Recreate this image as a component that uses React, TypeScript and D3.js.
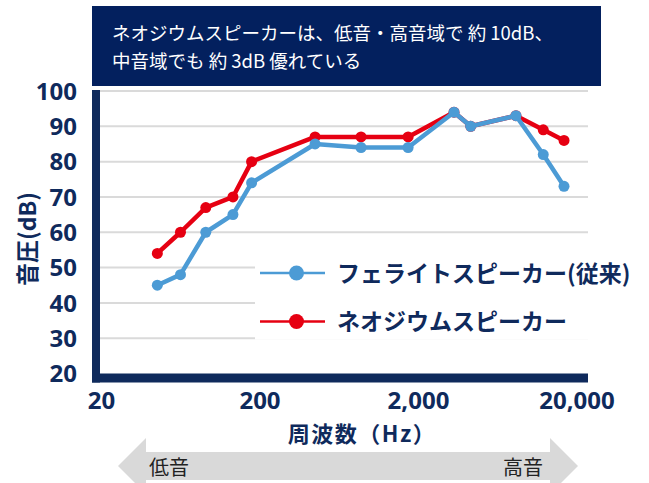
import { useEffect, useRef } from "react";
import * as d3 from "d3";

// frequency (Hz) of each measured point
const freqs = [45, 63, 91, 135, 177, 445, 868, 1720, 3350, 4270, 8240, 12250, 16560];
const ferriteDb = [45, 48, 60, 65, 74, 85, 84, 84, 94, 90, 93, 82, 73];
const neodymiumDb = [54, 60, 67, 70, 80, 87, 87, 87, 94, 90, 93, 89, 86];

const xTicks = [20, 200, 2000, 20000];
const yTicks = [20, 30, 40, 50, 60, 70, 80, 90, 100];

const seriesNames = ["フェライトスピーカー(従来)", "ネオジウムスピーカー"];
const seriesColors = ["#4c9bd5", "#e60012"];

const titleLines = [
  "ネオジウムスピーカーは、低音・高音域で 約 10dB、",
  "中音域でも 約 3dB 優れている",
];

const NAVY = "#0f2a5c";
const FONT = "'Noto Sans', 'Noto Sans CJK JP', sans-serif";
const JP = "'Noto Sans CJK JP', sans-serif";

function App() {
  const svgRef = useRef<SVGSVGElement>(null);

  useEffect(() => {
    if (!svgRef.current) return;
    const svg = d3.select(svgRef.current);
    svg.selectAll("*").remove();

    const width = 649;
    const height = 483;
    const plotLeft = 96;
    const plotRight = 588;

    svg.attr("width", width).attr("height", height);

    const x = d3.scaleLog().domain([20, 20000]).range([101.5, 577]);
    const y = d3.scaleLinear().domain([20, 100]).range([373.5, 91]);

    // gridlines
    svg.append("g")
      .selectAll("line")
      .data(yTicks.slice(1))
      .join("line")
      .attr("x1", plotLeft)
      .attr("x2", plotRight)
      .attr("y1", (d) => y(d))
      .attr("y2", (d) => y(d))
      .attr("stroke", "#dadada")
      .attr("stroke-width", 2);

    // axis frame
    svg.append("rect")
      .attr("x", plotLeft - 4)
      .attr("y", y(20))
      .attr("width", plotRight - plotLeft + 4)
      .attr("height", 9)
      .attr("fill", NAVY);
    svg.append("rect")
      .attr("x", plotLeft - 4)
      .attr("y", y(100) - 1)
      .attr("width", 8)
      .attr("height", y(20) - y(100) + 10)
      .attr("fill", NAVY);

    // y tick labels
    svg.append("g")
      .selectAll("text")
      .data(yTicks)
      .join("text")
      .attr("x", 77)
      .attr("y", (d) => y(d))
      .attr("dy", "0.36em")
      .attr("text-anchor", "end")
      .attr("font-family", FONT)
      .attr("font-weight", "bold")
      .attr("font-size", 24)
      .attr("fill", NAVY)
      .text((d) => d);

    // x tick labels
    svg.append("g")
      .selectAll("text")
      .data(xTicks)
      .join("text")
      .attr("x", (d) => x(d))
      .attr("y", 409)
      .attr("text-anchor", "middle")
      .attr("font-family", FONT)
      .attr("font-weight", "bold")
      .attr("font-size", 24)
      .attr("fill", NAVY)
      .text((d) => d3.format(",")(d));

    // axis titles
    svg.append("text")
      .attr("x", 362)
      .attr("y", 442)
      .attr("text-anchor", "middle")
      .attr("font-family", JP)
      .attr("font-weight", "bold")
      .attr("font-size", 22)
      .attr("letter-spacing", 1.5)
      .attr("fill", NAVY)
      .text("周波数（Hz）");

    svg.append("text")
      .attr("transform", "translate(36,239) rotate(-90)")
      .attr("text-anchor", "middle")
      .attr("font-family", JP)
      .attr("font-weight", "bold")
      .attr("font-size", 23)
      .attr("fill", NAVY)
      .text("音圧(dB)");

    // series lines, red under blue
    const line = d3.line<[number, number]>()
      .x((d) => x(d[0]))
      .y((d) => y(d[1]));

    const series = [ferriteDb, neodymiumDb];
    [1, 0].forEach((i) => {
      const pts: [number, number][] = freqs.map((f, j) => [f, series[i][j]]);
      const g = svg.append("g");
      g.append("path")
        .attr("d", line(pts))
        .attr("fill", "none")
        .attr("stroke", seriesColors[i])
        .attr("stroke-width", 4.5)
        .attr("stroke-linejoin", "round");
      g.selectAll("circle")
        .data(pts)
        .join("circle")
        .attr("cx", (d) => x(d[0]))
        .attr("cy", (d) => y(d[1]))
        .attr("r", 5.5)
        .attr("fill", seriesColors[i]);
    });

    // legend
    const legendY = [273, 321.5];
    seriesNames.forEach((name, i) => {
      const g = svg.append("g").attr("transform", `translate(0,${legendY[i]})`);
      g.append("rect")
        .attr("x", 255)
        .attr("y", -20)
        .attr("width", 380)
        .attr("height", 38)
        .attr("fill", "#fff");
      g.append("line")
        .attr("x1", 260)
        .attr("x2", 325)
        .attr("stroke", seriesColors[i])
        .attr("stroke-width", 2.5);
      g.append("circle")
        .attr("cx", 296.5)
        .attr("r", 7.5)
        .attr("fill", seriesColors[i]);
      g.append("text")
        .attr("x", 337)
        .attr("dy", "0.38em")
        .attr("font-family", JP)
        .attr("font-weight", "bold")
        .attr("font-size", 23)
        .attr("fill", NAVY)
        .text(name);
    });

    // title box
    svg.append("rect")
      .attr("x", 92)
      .attr("y", 6)
      .attr("width", 509)
      .attr("height", 80)
      .attr("fill", "#03205e");
    svg.append("g")
      .selectAll("text")
      .data(titleLines)
      .join("text")
      .attr("x", 112)
      .attr("y", (_, i) => 40 + i * 28)
      .attr("font-family", JP)
      .attr("font-size", 18.5)
      .attr("fill", "#fff")
      .text((d) => d);

    // low / high arrow
    const ay = 466;
    const arrow = d3.path();
    arrow.moveTo(118, ay);
    arrow.lineTo(146, ay - 28);
    arrow.lineTo(146, ay - 14);
    arrow.lineTo(550, ay - 14);
    arrow.lineTo(550, ay - 28);
    arrow.lineTo(578, ay);
    arrow.lineTo(550, ay + 28);
    arrow.lineTo(550, ay + 14);
    arrow.lineTo(146, ay + 14);
    arrow.lineTo(146, ay + 28);
    arrow.closePath();
    svg.append("path").attr("d", arrow.toString()).attr("fill", "#d9d9d9");

    svg.append("text")
      .attr("x", 149)
      .attr("y", 475)
      .attr("font-family", JP)
      .attr("font-size", 20)
      .attr("fill", "#222")
      .text("低音");
    svg.append("text")
      .attr("x", 543)
      .attr("y", 475)
      .attr("text-anchor", "end")
      .attr("font-family", JP)
      .attr("font-size", 20)
      .attr("fill", "#222")
      .text("高音");
  }, []);

  return (
    <div style={{ position: "absolute", left: 0, top: 0 }}>
      <svg ref={svgRef} style={{ display: "block" }}></svg>
    </div>
  );
}

export default App;
